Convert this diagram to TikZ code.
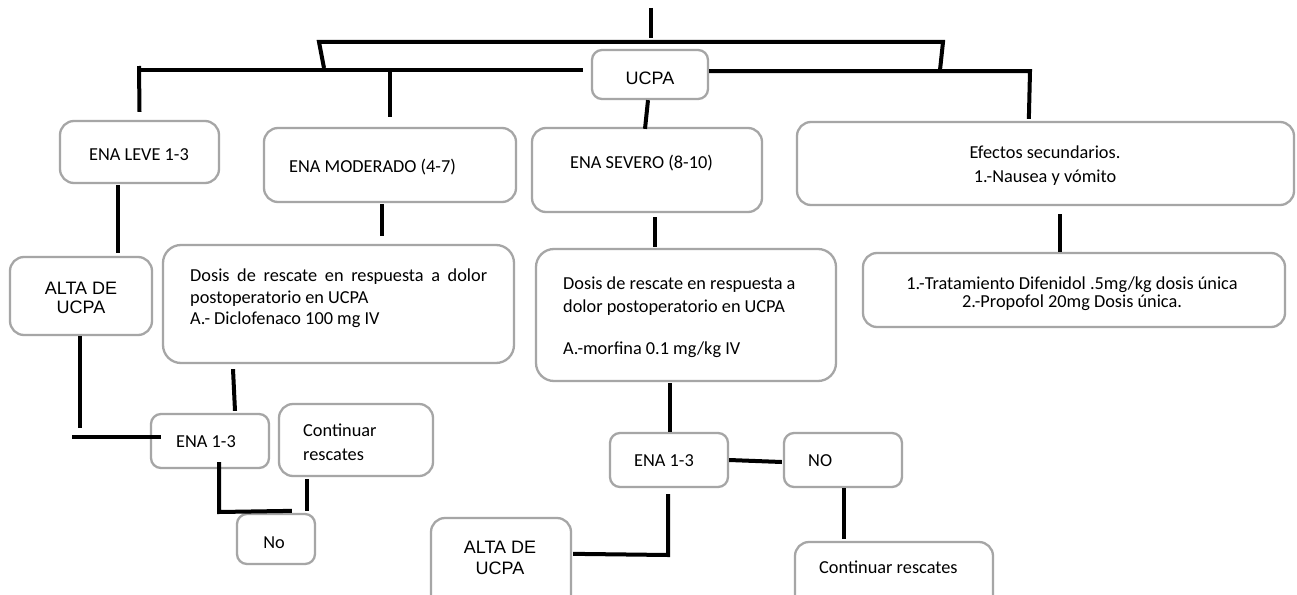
\documentclass[tikz,border=0pt]{standalone}
\usepackage{fontspec}
\setmainfont{Carlito}
\newfontfamily\arialf{Liberation Sans}
\usetikzlibrary{calc}
\definecolor{boxgray}{HTML}{A6A6A6}
\newcommand\mybox[6][]{\node[box, #1, minimum width={(#5)-(#3)}, minimum height={(#6)-(#4)}] (#2) at ({((#3)+(#5))/2},{((#4)+(#6))/2}) {};}
\begin{document}
\begin{tikzpicture}[x=1pt,y=-1pt,
  box/.style={draw=boxgray, line width=2.3pt, rounded corners=10pt, inner sep=0pt},
  bigbox/.style={rounded corners=18pt},
  midbox/.style={rounded corners=14pt},
  conn/.style={line width=4pt, black},
  txt/.style={inner sep=0pt, font=\fontsize{18.3}{21.5}\selectfont},
  atxt/.style={inner sep=0pt, font=\arialf\fontsize{18}{21}\selectfont},
]
\useasboundingbox (0,0) rectangle (1297,594);
\clip (0,0) rectangle (1297,594);
\fill[white] (0,0) rectangle (1297,594);

% boxes
\mybox{ucpa}{592}{50}{708}{99}
\mybox[midbox]{leve}{60}{121}{219}{183}
\mybox[midbox]{mod}{264}{128}{516}{202}
\mybox[midbox]{sev}{532}{128}{762}{212}
\mybox[midbox]{efe}{797}{122}{1294}{205}
\mybox[midbox]{alta1}{10}{257}{152}{335}
\mybox[bigbox]{dos1}{163}{245}{514}{363}
\mybox[bigbox]{dos2}{536}{249}{836}{381}
\mybox[midbox]{tra}{863}{253}{1285}{327}
\mybox{ena1}{151}{414}{269}{468}
\mybox[midbox]{cont1}{279}{404}{433}{476}
\mybox{no1}{237}{514}{315}{564}
\mybox{ena2}{610}{433}{728}{487}
\mybox{no2}{784}{433}{902}{487}
\mybox[midbox]{alta2}{431}{518}{571}{620}
\mybox[midbox]{cont2}{795}{542}{993}{620}

% connectors
\coordinate (t1) at (651,8);
\coordinate (t2) at (651,38);
\draw[conn] (t1) -- (t2);
\coordinate (bL) at (324,68);
\coordinate (bR) at (940,70);
\draw[conn] (bL) -- (319,42) -- (943,42) -- (bR);
\coordinate (hL) at (139,69.5);
\draw[conn] ([xshift=-8pt,yshift=5pt]ucpa.west) -- (hL);
\draw[conn] (139,66) -- ([yshift=8pt]leve.north);
\draw[conn] (390,69.5) -- ([yshift=10pt]mod.north);
\draw[conn] ([yshift=3.5pt]ucpa.east) -- (1030,71) -- ($(efe.north west)+(233,-2)$);
\draw[conn] ([xshift=-2pt]ucpa.south) -- ($(sev.north)+(-2,2)$);
\draw[conn] ($(leve.south)+(-21.5,1)$) -- ($(alta1.north)+(37,-3)$);
\draw[conn] ($(mod.south)+(-8,1)$) -- ($(dos1.north)+(43.5,-8)$);
\draw[conn] ($(alta1.south)+(-1,0)$) -- (80,428);
\draw[conn] (72,437) -- ($(ena1.west)+(11,-4)$);
\draw[conn] ($(dos1.south)+(-105.5,5)$) -- ($(ena1.north)+(25,-2)$);
\draw[conn] ($(ena1.south)+(9,-7)$) -- (219,512) -- ($(no1.north west)+(56,-2)$);
\draw[conn] ($(cont1.south)+(-49,2)$) -- ($(no1.north)+(31,-2)$);
\draw[conn] ($(sev.south)+(8,4)$) -- ($(dos2.north)+(-31,-1)$);
\draw[conn] ($(efe.south)+(14.5,8)$) -- ($(tra.north)+(-14,0)$);
\draw[conn] ($(dos2.south)+(-16,1)$) -- ($(ena2.north)+(1,0)$);
\draw[conn] (ena2.east) -- ($(no2.west)+(-1,2)$);
\draw[conn] ($(ena2.south)+(-1,6)$) -- (668,555) -- ($(alta2.north east)+(1,37)$);
\draw[conn] ($(no2.south)+(1,0)$) -- ($(cont2.north)+(-50,-2)$);

% texts
\node[atxt, anchor=base] (tucpa) at (650,84) {UCPA};
\node[txt, anchor=base] (tleve) at (139,160) {ENA LEVE 1-3};
\node[txt, anchor=base west] (tmod) at (289,172) {ENA MODERADO (4-7)};
\node[txt, anchor=base west] (tsev) at (570,168) {ENA SEVERO (8-10)};
\node[txt, anchor=base] (tefe1) at (1045,158) {Efectos secundarios.};
\node[txt, anchor=base] (tefe2) at (1045,182) {1.-Nausea y vómito};
\node[atxt, anchor=base] (talta1a) at (81,294) {ALTA DE};
\node[atxt, anchor=base] (talta1b) at (81,313) {UCPA};
\node[txt, anchor=base west] (tdos1a) at (190,281) {\makebox[297pt][s]{Dosis de rescate en respuesta a dolor}};
\node[txt, anchor=base west] (tdos1b) at (190,303) {postoperatorio en UCPA};
\node[txt, anchor=base west] (tdos1c) at (190,324) {A.- Diclofenaco 100 mg IV};
\node[txt, anchor=base west] (tdos2a) at (563,289) {Dosis de rescate en respuesta a};
\node[txt, anchor=base west] (tdos2b) at (563,312) {dolor postoperatorio en UCPA};
\node[txt, anchor=base west] (tdos2c) at (563,354) {A.-morfina 0.1 mg/kg IV};
\node[txt, anchor=base] (ttra1) at (1072,289) {1.-Tratamiento Difenidol .5mg/kg dosis única};
\node[txt, anchor=base] (ttra2) at (1072,307) {2.-Propofol 20mg Dosis única.};
\node[txt, anchor=base west] (tena1) at (176,447) {ENA 1-3};
\node[txt, anchor=base west] (tcont1a) at (303,436) {Continuar};
\node[txt, anchor=base west] (tcont1b) at (303,460) {rescates};
\node[txt, anchor=base] (tno1) at (274,548) {No};
\node[txt, anchor=base west] (tena2) at (634,466) {ENA 1-3};
\node[txt, anchor=base west] (tno2) at (808,466) {NO};
\node[atxt, anchor=base] (talta2a) at (500,553) {ALTA DE};
\node[atxt, anchor=base] (talta2b) at (500,574) {UCPA};
\node[txt, anchor=base west] (tcont2) at (819,573) {Continuar rescates};
\end{tikzpicture}
\end{document}
